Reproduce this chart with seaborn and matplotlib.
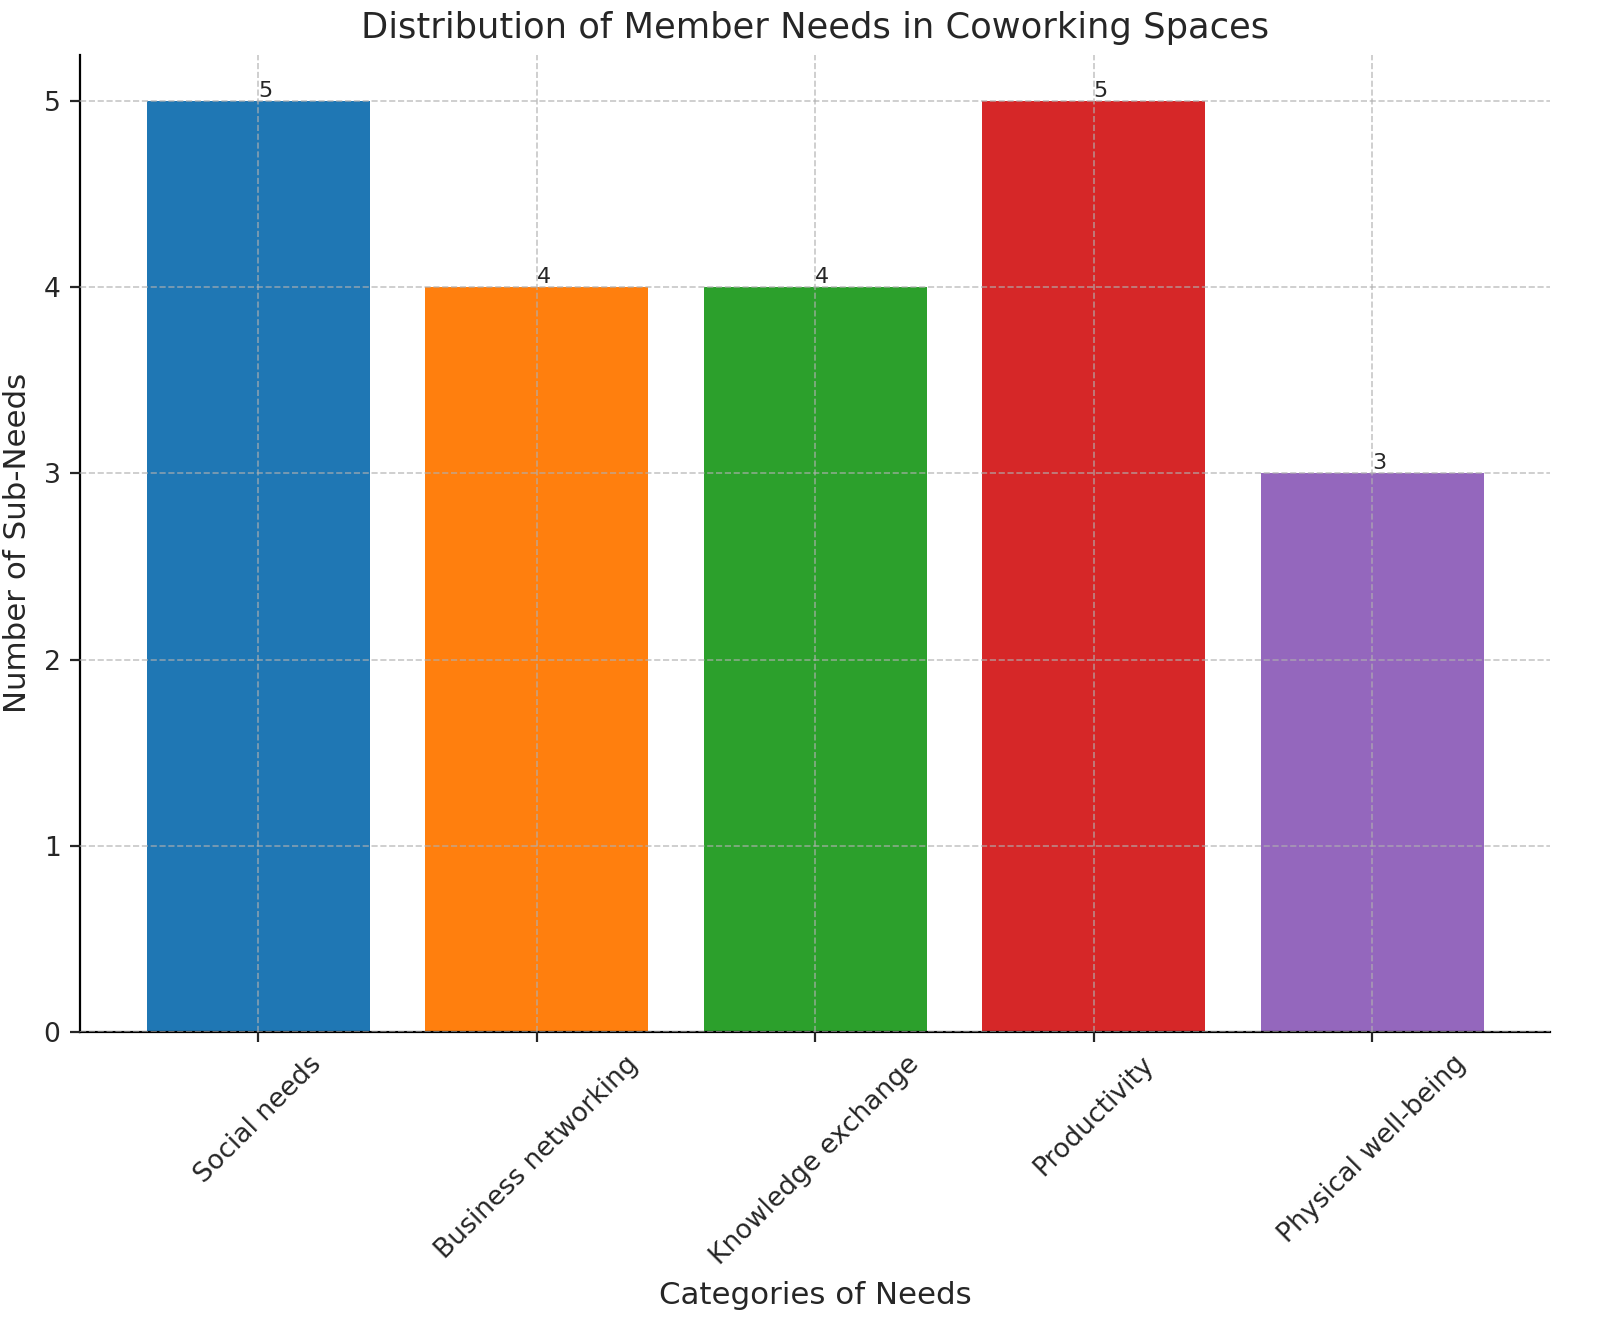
import matplotlib
matplotlib.use("Agg")
import pandas as pd
import matplotlib.pyplot as plt
import seaborn as sns

# Data
categories = ['Social needs', 'Business networking', 'Knowledge exchange',
              'Productivity', 'Physical well-being']
sub_needs = [5, 4, 4, 5, 3]
bar_colors = ['#1f77b4', '#ff7f0e', '#2ca02c', '#d62728', '#9467bd']

df = pd.DataFrame({'Category': categories, 'Count': sub_needs})

plt.rcParams['font.family'] = ['DejaVu Sans']
plt.rcParams['text.color'] = '#262626'
plt.rcParams['axes.labelcolor'] = '#262626'
plt.rcParams['xtick.color'] = '#262626'
plt.rcParams['ytick.color'] = '#262626'

fig, ax = plt.subplots(figsize=(8, 6.69), dpi=200)
sns.barplot(x='Category', y='Count', hue='Category', data=df,
            palette=bar_colors, legend=False, width=0.8, saturation=1, ax=ax)

# value labels
for i, v in enumerate(sub_needs):
    ax.text(i, v, str(v), ha='left', va='bottom', fontsize=8)

ax.set_title('Distribution of Member Needs in Coworking Spaces', fontsize=12.7)
ax.set_xlabel('Categories of Needs', fontsize=11.1)
ax.set_ylabel('Number of Sub-Needs', fontsize=11.1)
ax.tick_params(axis='x', labelrotation=45, labelsize=9.6)
ax.tick_params(axis='y', labelsize=9.6)
ax.set_xlim(-0.64, 4.64)
ax.set_ylim(0, 5.25)

ax.set_axisbelow(False)
ax.grid(True, linestyle='--', color='#b0b0b0', alpha=0.7, linewidth=0.6)
ax.spines['top'].set_visible(False)
ax.spines['right'].set_visible(False)

fig.subplots_adjust(left=0.05, right=0.969, top=0.959, bottom=0.229)
plt.savefig('out.png', dpi=200)
